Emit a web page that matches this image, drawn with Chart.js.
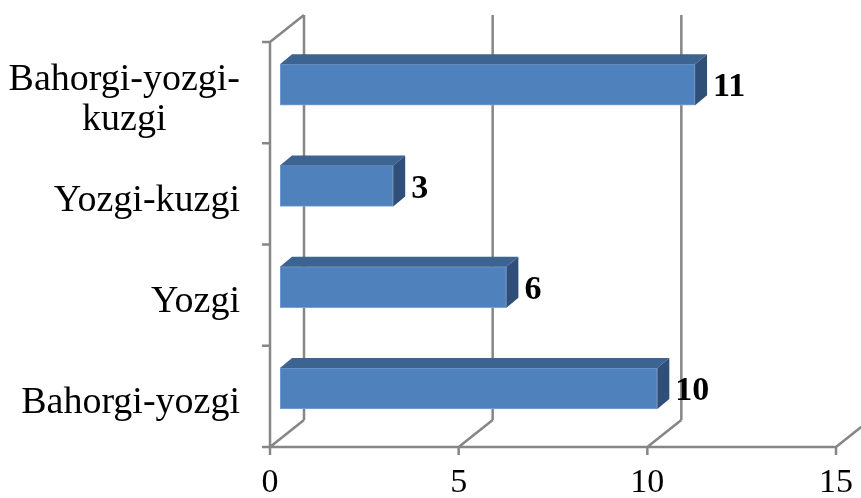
<!DOCTYPE html>
<html>
<head>
<meta charset="utf-8">
<script src="https://cdn.jsdelivr.net/npm/chart.js@4/dist/chart.umd.min.js"></script>
<style>
  body { margin: 0; background: #fff; }
  canvas { display: block; }
</style>
</head>
<body>
<canvas id="chart" width="861" height="498"></canvas>
<script>
const categories = [['Bahorgi-yozgi-', 'kuzgi'], 'Yozgi-kuzgi', 'Yozgi', 'Bahorgi-yozgi'];
const counts = [11, 3, 6, 10];
const xTicks = [0, 5, 10, 15];

const GRID = '#868686';
const DEPTH = { dx: 34, dy: -27 };   // back wall offset
const BAR_SHIFT = { dx: 10, dy: -8 }; // bars sit a bit into the box
const BAR_DEPTH = { dx: 12, dy: -10 };

const frame3d = {
  id: 'frame3d',
  beforeDatasetsDraw(chart) {
    const { ctx, chartArea: a, scales } = chart;
    const xs = scales.x;
    ctx.save();
    ctx.strokeStyle = GRID;
    ctx.lineWidth = 2.5;
    ctx.beginPath();
    xTicks.forEach(v => {
      const x = xs.getPixelForValue(v);
      // floor diagonal + back wall line
      ctx.moveTo(x, a.bottom);
      ctx.lineTo(x + DEPTH.dx, a.bottom + DEPTH.dy);
      ctx.moveTo(x + DEPTH.dx, a.bottom + DEPTH.dy);
      ctx.lineTo(x + DEPTH.dx, a.top + DEPTH.dy);
      // tick mark
      ctx.moveTo(x, a.bottom);
      ctx.lineTo(x, a.bottom + 8);
    });
    // front axes
    ctx.moveTo(a.left, a.top);
    ctx.lineTo(a.left, a.bottom);
    ctx.lineTo(a.right, a.bottom);
    ctx.moveTo(a.left, a.top);
    ctx.lineTo(a.left + DEPTH.dx, a.top + DEPTH.dy);
    // category ticks on the left
    const band = (a.bottom - a.top) / categories.length;
    for (let i = 0; i <= categories.length; i++) {
      const y = a.top + i * band;
      ctx.moveTo(a.left - 8, y);
      ctx.lineTo(a.left, y);
    }
    ctx.stroke();
    ctx.restore();

    ctx.save();
    ctx.translate(BAR_SHIFT.dx, BAR_SHIFT.dy);
  },
  afterDatasetsDraw(chart) {
    const { ctx } = chart;
    const meta = chart.getDatasetMeta(0);
    meta.data.forEach(bar => {
      const { x, y, base, height } = bar.getProps(['x', 'y', 'base', 'height'], true);
      const t = y - height / 2, b = y + height / 2;
      // top face
      ctx.fillStyle = '#3D6391';
      ctx.beginPath();
      ctx.moveTo(base, t);
      ctx.lineTo(x, t);
      ctx.lineTo(x + BAR_DEPTH.dx, t + BAR_DEPTH.dy);
      ctx.lineTo(base + BAR_DEPTH.dx, t + BAR_DEPTH.dy);
      ctx.closePath();
      ctx.fill();
      // side face
      ctx.fillStyle = '#2F4F78';
      ctx.beginPath();
      ctx.moveTo(x, t);
      ctx.lineTo(x + BAR_DEPTH.dx, t + BAR_DEPTH.dy);
      ctx.lineTo(x + BAR_DEPTH.dx, b + BAR_DEPTH.dy);
      ctx.lineTo(x, b);
      ctx.closePath();
      ctx.fill();
    });
    ctx.restore();

    // value labels
    ctx.save();
    ctx.font = 'bold 34px "Liberation Serif"';
    ctx.fillStyle = '#000';
    ctx.textAlign = 'left';
    ctx.textBaseline = 'middle';
    meta.data.forEach((bar, i) => {
      const { x, y } = bar.getProps(['x', 'y'], true);
      ctx.fillText(String(counts[i]), x + BAR_SHIFT.dx + 18, y - 5);
    });
    ctx.restore();
  },
  afterDraw(chart) {
    const { ctx, scales } = chart;
    const ys = scales.y;
    ctx.save();
    ctx.font = '38px "Liberation Serif"';
    ctx.fillStyle = '#000';
    ctx.textBaseline = 'middle';
    ctx.textAlign = 'center';
    const right = 240, lh = 40;
    categories.forEach((lab, i) => {
      const lines = Array.isArray(lab) ? lab : [lab];
      const w = Math.max(...lines.map(s => ctx.measureText(s).width));
      const cx = right - w / 2;
      const cy = ys.getPixelForValue(i) + 7;
      lines.forEach((s, j) => {
        ctx.fillText(s, cx, cy + (j - (lines.length - 1) / 2) * lh);
      });
    });
    ctx.restore();
  }
};

new Chart(document.getElementById('chart'), {
  type: 'bar',
  data: {
    labels: categories,
    datasets: [{
      data: counts,
      backgroundColor: '#4F81BD',
      borderColor: '#7FA3D0',
      borderWidth: 1,
      borderSkipped: false,
      barThickness: 41
    }]
  },
  options: {
    indexAxis: 'y',
    responsive: false,
    animation: false,
    layout: { padding: { top: 42, right: 23, left: 0, bottom: 0 } },
    plugins: {
      legend: { display: false },
      tooltip: { enabled: false }
    },
    scales: {
      x: {
        min: 0,
        max: 15,
        afterBuildTicks: s => { s.ticks = xTicks.map(v => ({ value: v })); },
        ticks: {
          color: '#000',
          font: { family: 'Liberation Serif', size: 34 },
          padding: 8,
          maxRotation: 0
        },
        grid: { display: false },
        border: { display: false },
        afterFit: s => { s.height = 51; }
      },
      y: {
        ticks: { display: false },
        grid: { display: false },
        border: { display: false },
        afterFit: s => { s.width = 270; }
      }
    }
  },
  plugins: [frame3d]
});
</script>
</body>
</html>
